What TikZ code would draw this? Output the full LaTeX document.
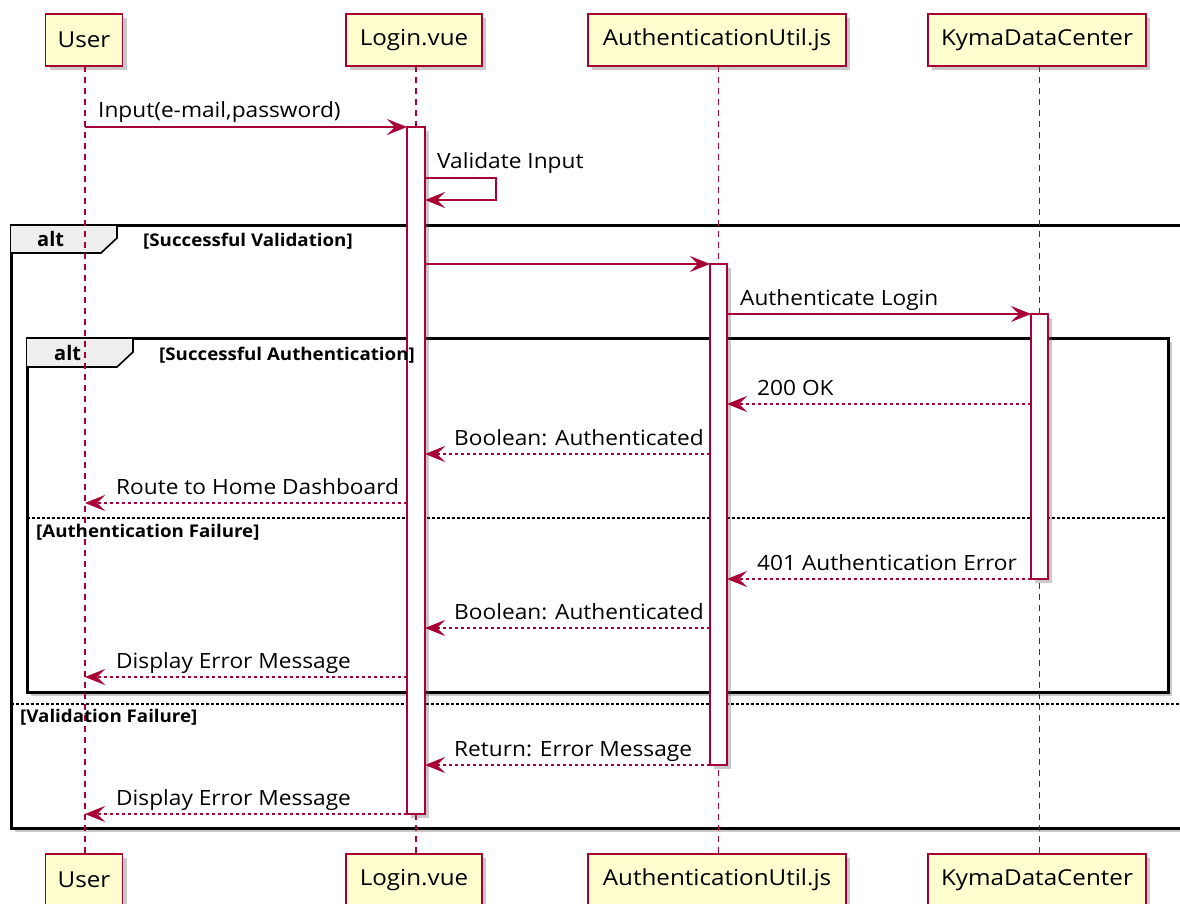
\documentclass[tikz,border=0pt]{standalone}
\usepackage{fontspec}
\setmainfont{Open Sans}
\newfontfamily\msgfont[FakeStretch=1.08]{Open Sans}
\newfontfamily\partfont[FakeStretch=1.1]{Open Sans}
\newfontfamily\guardfont[FakeStretch=1.07]{Open Sans}
\usetikzlibrary{arrows.meta,shadows}
\definecolor{pborder}{HTML}{A80036}
\definecolor{pfill}{HTML}{FEFECE}
\definecolor{tabfill}{HTML}{EEEEEE}
\begin{document}
\begin{tikzpicture}[x=1pt,y=-1pt,
  shd/.style={drop shadow={shadow xshift=4pt,shadow yshift=-4pt,opacity=0.35,fill=black!60}},
  participant/.style={draw=pborder, fill=pfill, line width=1.8pt, minimum height=52pt, inner sep=0pt,
    font=\partfont\fontsize{22}{26}\selectfont, shd},
  lifeline/.style={draw=pborder, line width=1.5pt, dash pattern=on 6pt off 5pt},
  actbar/.style={draw=pborder, fill=white, line width=1.8pt, shd},
  msg/.style={draw=pborder, line width=1.8pt, -{Stealth[length=20pt,width=16pt,inset=8pt]}},
  ret/.style={msg, dash pattern=on 3pt off 3pt},
  lbl/.style={anchor=base west, inner sep=0pt, font=\msgfont\fontsize{21}{25}\selectfont},
  frame/.style={draw=black, line width=3pt, fill=white, shd},
  tab/.style={draw=black, line width=1.6pt, fill=tabfill},
  alttxt/.style={anchor=base west, inner sep=0pt, font=\bfseries\fontsize{20}{24}\selectfont},
  guard/.style={anchor=base west, inner sep=0pt, font=\guardfont\bfseries\fontsize{17.5}{21}\selectfont},
  sep/.style={draw=black, line width=1.4pt, dash pattern=on 2.5pt off 2.5pt}
]
\clip (0,0) rectangle (1180,904);
\useasboundingbox (0,0) rectangle (1180,904);
\fill[white] (0,0) rectangle (1180,904);

% frames
\draw[frame] (11,225) rectangle (1200,828);
\draw[tab] (11,225) -- (117,225) -- (117,238) -- (101,253) -- (11,253);
\node[alttxt] (altA) at (37,246) {alt};
\draw[frame] (27,338) rectangle (1168,692);
\draw[tab] (27,338) -- (133,338) -- (133,352) -- (117,367) -- (27,367);
\node[alttxt] (altB) at (54,360) {alt};
\draw[sep] (27,518) -- (1168,518);
\draw[sep] (11,704) -- (1200,704);

% participants
\node[participant, minimum width=77pt] (uT) at (84,40) {User};
\node[participant, minimum width=136pt] (lT) at (414,40) {Login.vue};
\node[participant, minimum width=258pt] (aT) at (717,40) {AuthenticationUtil.js};
\node[participant, minimum width=218pt] (kT) at (1037,40) {KymaDataCenter};
\node[participant, minimum width=77pt] (uB) at (84,880) {User};
\node[participant, minimum width=136pt] (lB) at (414,880) {Login.vue};
\node[participant, minimum width=258pt] (aB) at (717,880) {AuthenticationUtil.js};
\node[participant, minimum width=218pt] (kB) at (1037,880) {KymaDataCenter};

% lifelines
\coordinate (uL1) at (85,66); \coordinate (uL2) at (85,854);
\coordinate (lL1) at (416,66); \coordinate (lL2) at (416,854);
\coordinate (aL1) at (718.5,66); \coordinate (aL2) at (718.5,854);
\coordinate (kL1) at (1039.5,66); \coordinate (kL2) at (1039.5,854);
\draw[lifeline] (uL1) -- (uL2);
\draw[lifeline] (lL1) -- (lL2);
\draw[lifeline] (aL1) -- (aL2);
\draw[lifeline] (kL1) -- (kL2);

% activation bars
\draw[actbar] (407,127) rectangle (425,814);
\draw[actbar] (710,264) rectangle (727,765);
\draw[actbar] (1031,314) rectangle (1048,579);

% guards
\node[guard] (gA) at (143,246) {[Successful Validation]};
\node[guard] (gB) at (159,360) {[Successful Authentication]};
\node[guard] (gC) at (36,537) {[Authentication Failure]};
\node[guard] (gD) at (20,722) {[Validation Failure]};

% messages
\coordinate (m1a) at (85,127); \coordinate (m1b) at (407,127);
\draw[msg] (m1a) -- (m1b);
\node[lbl] (t1) at (98,118) {Input(e-mail,password)};

\coordinate (m2a) at (425,178); \coordinate (m2b) at (496,178);
\coordinate (m2c) at (496,200); \coordinate (m2d) at (425,200);
\draw[msg] (m2a) -- (m2b) -- (m2c) -- (m2d);
\node[lbl] (t2) at (437,169) {Validate Input};

\coordinate (m3a) at (425,264); \coordinate (m3b) at (710,264);
\draw[msg] (m3a) -- (m3b);

\coordinate (m4a) at (727,314); \coordinate (m4b) at (1031,314);
\draw[msg] (m4a) -- (m4b);
\node[lbl] (t4) at (740,305) {Authenticate Login};

\coordinate (m5a) at (1031,404); \coordinate (m5b) at (727,404);
\draw[ret] (m5a) -- (m5b);
\node[lbl] (t5) at (757,395) {200 OK};

\coordinate (m6a) at (710,454); \coordinate (m6b) at (425,454);
\draw[ret] (m6a) -- (m6b);
\node[lbl] (t6) at (454,445) {Boolean: Authenticated};

\coordinate (m7a) at (407,503); \coordinate (m7b) at (85,503);
\draw[ret] (m7a) -- (m7b);
\node[lbl] (t7) at (116,494) {Route to Home Dashboard};

\coordinate (m8a) at (1031,579); \coordinate (m8b) at (727,579);
\draw[ret] (m8a) -- (m8b);
\node[lbl] (t8) at (757,570) {401 Authentication Error};

\coordinate (m9a) at (710,628); \coordinate (m9b) at (425,628);
\draw[ret] (m9a) -- (m9b);
\node[lbl] (t9) at (454,619) {Boolean: Authenticated};

\coordinate (m10a) at (407,677); \coordinate (m10b) at (85,677);
\draw[ret] (m10a) -- (m10b);
\node[lbl] (t10) at (116,668) {Display Error Message};

\coordinate (m11a) at (710,765); \coordinate (m11b) at (425,765);
\draw[ret] (m11a) -- (m11b);
\node[lbl] (t11) at (454,756) {Return: Error Message};

\coordinate (m12a) at (407,814); \coordinate (m12b) at (85,814);
\draw[ret] (m12a) -- (m12b);
\node[lbl] (t12) at (116,805) {Display Error Message};
\end{tikzpicture}
\end{document}
